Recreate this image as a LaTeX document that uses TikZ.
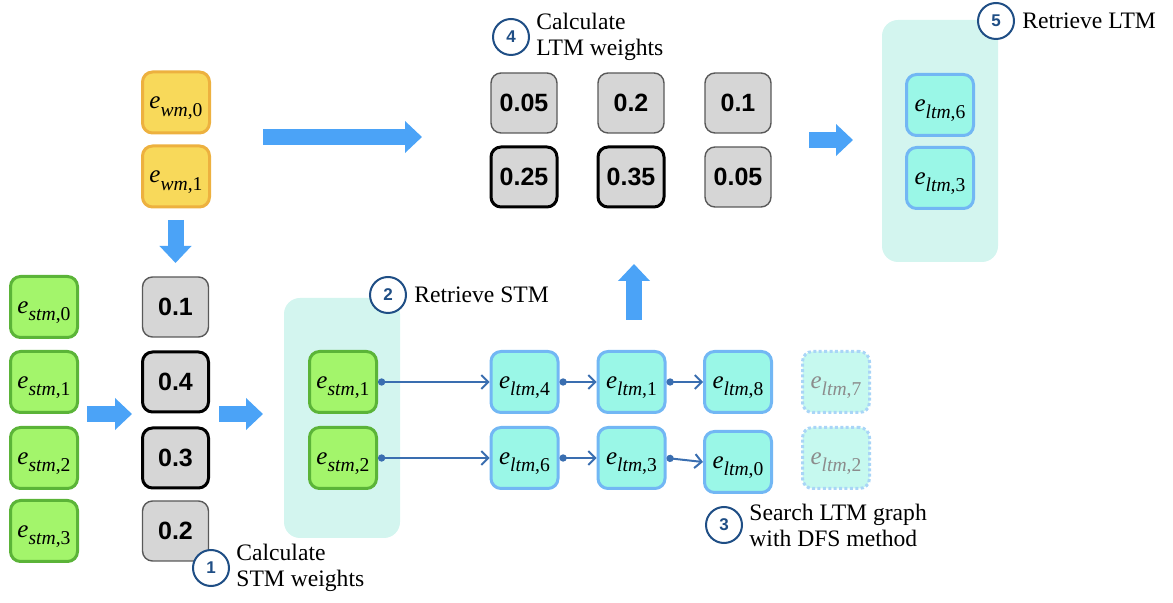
\documentclass[tikz,border=0pt]{standalone}
\usepackage{fontspec}
\setmainfont{Liberation Serif}
\newfontfamily\numfont{Liberation Sans}
\usepackage{tikz}
\usetikzlibrary{arrows.meta,positioning}

\definecolor{stmgreen}{HTML}{A3F56B}
\definecolor{stmedge}{HTML}{5BB438}
\definecolor{wmyellow}{HTML}{F8D95A}
\definecolor{wmedge}{HTML}{EDB13F}
\definecolor{wgray}{HTML}{D6D6D6}
\definecolor{ltmteal}{HTML}{9AF7E7}
\definecolor{ltmedge}{HTML}{72B7F4}
\definecolor{ghostteal}{HTML}{C6F9EF}
\definecolor{ghostedge}{HTML}{A9D5F7}
\definecolor{panel}{HTML}{D3F5EF}
\definecolor{bigblue}{HTML}{4BA3F7}
\definecolor{linkblue}{HTML}{3A6EB0}
\definecolor{stepblue}{HTML}{1F4E85}

\newcommand{\ent}[2]{\rmfamily\textit{e}\raisebox{-3.6pt}{\fontsize{9.8}{9.8}\selectfont\textit{#1},#2}}

\begin{document}
\begin{tikzpicture}[x=0.5pt, y=-0.5pt, font=\rmfamily\fontsize{11.8}{13}\selectfont,
        ebox/.style={rounded corners=5pt, minimum width=33.5pt, minimum height=30.5pt, line width=1.5pt, inner sep=0pt, text height=8pt, text depth=1.6pt, font=\rmfamily\fontsize{12.5}{13}\selectfont},
        stmbox/.style={ebox, fill=stmgreen, draw=stmedge},
        wmbox/.style={ebox, fill=wmyellow, draw=wmedge},
        ltmbox/.style={ebox, fill=ltmteal, draw=ltmedge},
        ghostbox/.style={ebox, fill=ghostteal, draw=ghostedge, dash pattern=on 1.5pt off 1.2pt, text=black!45},
        wbox/.style={rounded corners=5pt, minimum width=33pt, minimum height=30pt, inner sep=0pt, fill=wgray, draw=black!65, line width=0.7pt, font=\numfont\bfseries\fontsize{12.5}{12.5}\selectfont},
        wboxb/.style={wbox, draw=black, line width=1.5pt},
        panelbox/.style={rounded corners=8pt, fill=panel, minimum width=58pt, inner sep=0pt},
        stepnum/.style={circle, draw=stepblue, fill=white, line width=1pt, minimum size=18pt, inner sep=0pt, text=stepblue, font=\numfont\bfseries\fontsize{8.5}{8.5}\selectfont},
        steptext/.style={align=left, inner sep=0pt, font=\rmfamily\fontsize{11.8}{13}\selectfont},
        link/.style={draw=linkblue, line width=1pt, {Circle[length=3.6pt]}-{Straight Barb[length=3.4pt,width=7pt]}},
        fat/.style={draw=bigblue, line width=8pt, -{Triangle[length=8.5pt,width=15.5pt]}}]
        \useasboundingbox (0,0) rectangle (1173,603);

        \node [panelbox, minimum height=120pt] (stmpanel) at (342,418) {};
        \node [panelbox, minimum height=121pt] (ltmpanel) at (940,141) {};

        \node [stmbox] (stm0) at (44,307) {\ent{stm}{0}};
        \node [stmbox] (stm1) at (44,382) {\ent{stm}{1}};
        \node [stmbox] (stm2) at (44,458) {\ent{stm}{2}};
        \node [stmbox] (stm3) at (44,531) {\ent{stm}{3}};

        \node [wbox] (sw0) at (175.5,307) {0.1};
        \node [wboxb] (sw1) at (175.5,382) {0.4};
        \node [wboxb] (sw2) at (175.5,458) {0.3};
        \node [wbox] (sw3) at (175.5,531) {0.2};

        \node [wmbox] (wm0) at (176,102.5) {\ent{wm}{0}};
        \node [wmbox] (wm1) at (176,176.5) {\ent{wm}{1}};

        \node [stmbox] (pstm1) at (343,382) {\ent{stm}{1}};
        \node [stmbox] (pstm2) at (343,458) {\ent{stm}{2}};

        \node [ltmbox] (ltm4) at (524.5,382) {\ent{ltm}{4}};
        \node [ltmbox] (ltm1) at (631.5,382) {\ent{ltm}{1}};
        \node [ltmbox] (ltm8) at (738,382) {\ent{ltm}{8}};
        \node [ghostbox] (ltm7) at (836,382) {\ent{ltm}{7}};
        \node [ltmbox] (ltm6) at (524.5,458) {\ent{ltm}{6}};
        \node [ltmbox] (ltm3) at (631.5,458) {\ent{ltm}{3}};
        \node [ltmbox] (ltm0) at (738,462) {\ent{ltm}{0}};
        \node [ghostbox] (ltm2) at (836,458) {\ent{ltm}{2}};

        \node [wbox] (lw0) at (524,103) {0.05};
        \node [wbox] (lw1) at (631,103) {0.2};
        \node [wbox] (lw2) at (738,103) {0.1};
        \node [wboxb] (lw3) at (524,177) {0.25};
        \node [wboxb] (lw4) at (631,177) {0.35};
        \node [wbox] (lw5) at (738,177) {0.05};

        \node [ltmbox] (rltm6) at (940,105) {\ent{ltm}{6}};
        \node [ltmbox] (rltm3) at (940,178) {\ent{ltm}{3}};

        \draw [link] (pstm1.east) -- (ltm4.west);
        \draw [link] (ltm4.east) -- (ltm1.west);
        \draw [link] (ltm1.east) -- (ltm8.west);
        \draw [link] (pstm2.east) -- (ltm6.west);
        \draw [link] (ltm6.east) -- (ltm3.west);
        \draw [link] (ltm3.east) -- (ltm0.west);

        \coordinate (a1s) at (87,414);
        \coordinate (a1e) at (132,414);
        \coordinate (a2s) at (219,414);
        \coordinate (a2e) at (263,414);
        \coordinate (a3s) at (175.5,220);
        \coordinate (a3e) at (175.5,263);
        \coordinate (a4s) at (263,137);
        \coordinate (a4e) at (422,137);
        \coordinate (a5s) at (634,320);
        \coordinate (a5e) at (634,264);
        \coordinate (a6s) at (809,140);
        \coordinate (a6e) at (853,140);
        \draw [fat] (a1s) -- (a1e);
        \draw [fat] (a2s) -- (a2e);
        \draw [fat] (a3s) -- (a3e);
        \draw [fat] (a4s) -- (a4e);
        \draw [fat] (a5s) -- (a5e);
        \draw [fat] (a6s) -- (a6e);

        \node [stepnum] (s1) at (211,568) {1};
        \node [steptext, right=3pt of s1] (t1) {Calculate\\STM weights};
        \node [stepnum] (s2) at (388,295) {2};
        \node [steptext, right=3.5pt of s2] (t2) {Retrieve STM};
        \node [stepnum] (s3) at (724,525) {3};
        \node [steptext, right=3pt of s3] (t3) {Search LTM graph\\with DFS method};
        \node [stepnum] (s4) at (511,37) {4};
        \node [steptext, right=3pt of s4] (t4) {Calculate\\LTM weights};
        \node [stepnum] (s5) at (996,21) {5};
        \node [steptext, right=3.5pt of s5] (t5) {Retrieve LTM};
\end{tikzpicture}
\end{document}
